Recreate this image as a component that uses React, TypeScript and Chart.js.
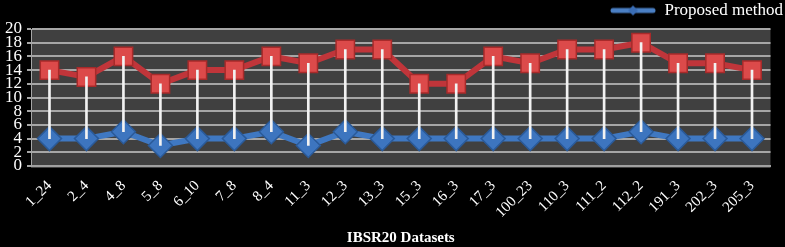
import React, { useEffect, useRef } from "react";
import { Chart, registerables } from "chart.js";

Chart.register(...registerables);

const categories = ["1_24", "2_4", "4_8", "5_8", "6_10", "7_8", "8_4", "11_3", "12_3", "13_3", "15_3", "16_3", "17_3", "100_23", "110_3", "111_2", "112_2", "191_3", "202_3", "205_3"];
const existingValues = [14, 13, 16, 12, 14, 14, 16, 15, 17, 17, 12, 12, 16, 15, 17, 17, 18, 15, 15, 14];
const proposedValues = [4, 4, 5, 3, 4, 4, 5, 3, 5, 4, 4, 4, 4, 4, 4, 4, 5, 4, 4, 4];
const yMin = 0;
const yMax = 20;
const yStep = 2;

const SERIF = "'Liberation Serif', 'Times New Roman', serif";

function makeLegendIcon(): HTMLCanvasElement {
  const c = document.createElement("canvas");
  c.width = 46;
  c.height = 12;
  const ctx = c.getContext("2d")!;
  ctx.fillStyle = "#4a7fc4";
  ctx.beginPath();
  ctx.moveTo(3, 3.5);
  ctx.lineTo(43, 3.5);
  ctx.arc(43, 6, 2.5, -Math.PI / 2, Math.PI / 2);
  ctx.lineTo(3, 8.5);
  ctx.arc(3, 6, 2.5, Math.PI / 2, Math.PI * 1.5);
  ctx.fill();
  ctx.fillStyle = "#3a6db5";
  ctx.beginPath();
  ctx.moveTo(23, 1);
  ctx.lineTo(28, 6);
  ctx.lineTo(23, 11);
  ctx.lineTo(18, 6);
  ctx.closePath();
  ctx.fill();
  return c;
}

const plotBg = {
  id: "plotBg",
  beforeDraw(chart: any) {
    const { ctx, chartArea } = chart;
    if (!chartArea) return;
    ctx.save();
    ctx.fillStyle = "#404040";
    ctx.fillRect(chartArea.left, chartArea.top, chartArea.right - chartArea.left, chartArea.bottom - chartArea.top + 2);
    ctx.restore();
  },
};

export default function App() {
  const ref = useRef<HTMLCanvasElement>(null);
  useEffect(() => {
    const chart = new Chart(ref.current!, {
      type: "line",
      data: {
        labels: categories,
        datasets: [
          {
            type: "bar",
            label: "High-low",
            data: categories.map((_, i) => [proposedValues[i], existingValues[i]]) as any,
            backgroundColor: "#f2f2f2",
            barThickness: 2,
            grouped: false,
            order: 0,
          } as any,
          {
            label: "Existing method",
            data: existingValues,
            borderColor: "#c0353a",
            borderWidth: 6,
            pointStyle: "rect",
            pointRadius: 13,
            pointBackgroundColor: "#dc4a4a",
            pointBorderColor: "#a82a2a",
            pointBorderWidth: 1.5,
            order: 1,
          },
          {
            label: "Proposed method",
            data: proposedValues,
            borderColor: "#3f78c2",
            borderWidth: 6,
            pointStyle: "rectRot",
            pointRadius: 12,
            pointBackgroundColor: "#3d75bf",
            pointBorderColor: "#2a5a99",
            pointBorderWidth: 1.5,
            order: 1,
          },
        ],
      },
      options: {
        animation: false,
        responsive: false,
        maintainAspectRatio: false,
        layout: { padding: { right: 0, left: 0, top: 0, bottom: 0 } },
        plugins: {
          tooltip: { enabled: false },
          legend: {
            display: true,
            position: "top",
            align: "end",
            labels: {
              filter: (item: any) => item.text === "Proposed method",
              usePointStyle: true,
              pointStyle: makeLegendIcon() as any,
              pointStyleWidth: 46,
              color: "#ffffff",
              font: { family: SERIF, size: 17 },
              padding: 2,
            },
          },
        },
        scales: {
          x: {
            offset: true,
            grid: { display: false, drawTicks: false },
            border: { display: true, color: "#a0a0a0", width: 2 },
            ticks: {
              color: "#ffffff",
              font: { family: SERIF, size: 15 },
              maxRotation: 45,
              minRotation: 45,
              autoSkip: false,
              padding: 11,
            },
            title: {
              display: true,
              text: "IBSR20 Datasets",
              color: "#ffffff",
              font: { family: SERIF, size: 15, weight: "bold" },
              padding: { top: 2, bottom: 0 },
            },
            afterFit(scale: any) {
              scale.height = 81;
            },
          } as any,
          y: {
            min: yMin,
            max: yMax,
            grid: { color: "#a6a6a6", lineWidth: 2, tickLength: 4, tickColor: "#a6a6a6" },
            border: { display: true, color: "#a6a6a6", width: 1 },
            ticks: {
              stepSize: yStep,
              autoSkip: false,
              color: "#ffffff",
              font: { family: SERIF, size: 17 },
              padding: 5,
            },
          },
          yRight: {
            position: "right",
            display: true,
            min: yMin,
            max: yMax,
            grid: { display: false },
            border: { display: false },
            ticks: { display: false },
            afterFit(scale: any) {
              scale.width = 5;
            },
          } as any,
        },
      },
      plugins: [plotBg],
    });
    return () => chart.destroy();
  }, []);
  return (
    <div style={{ position: "fixed", left: 0, top: 0, width: 785, height: 247, background: "#000" }}>
      <canvas ref={ref} width={785} height={247} style={{ display: "block", width: 785, height: 247 }} />
    </div>
  );
}
